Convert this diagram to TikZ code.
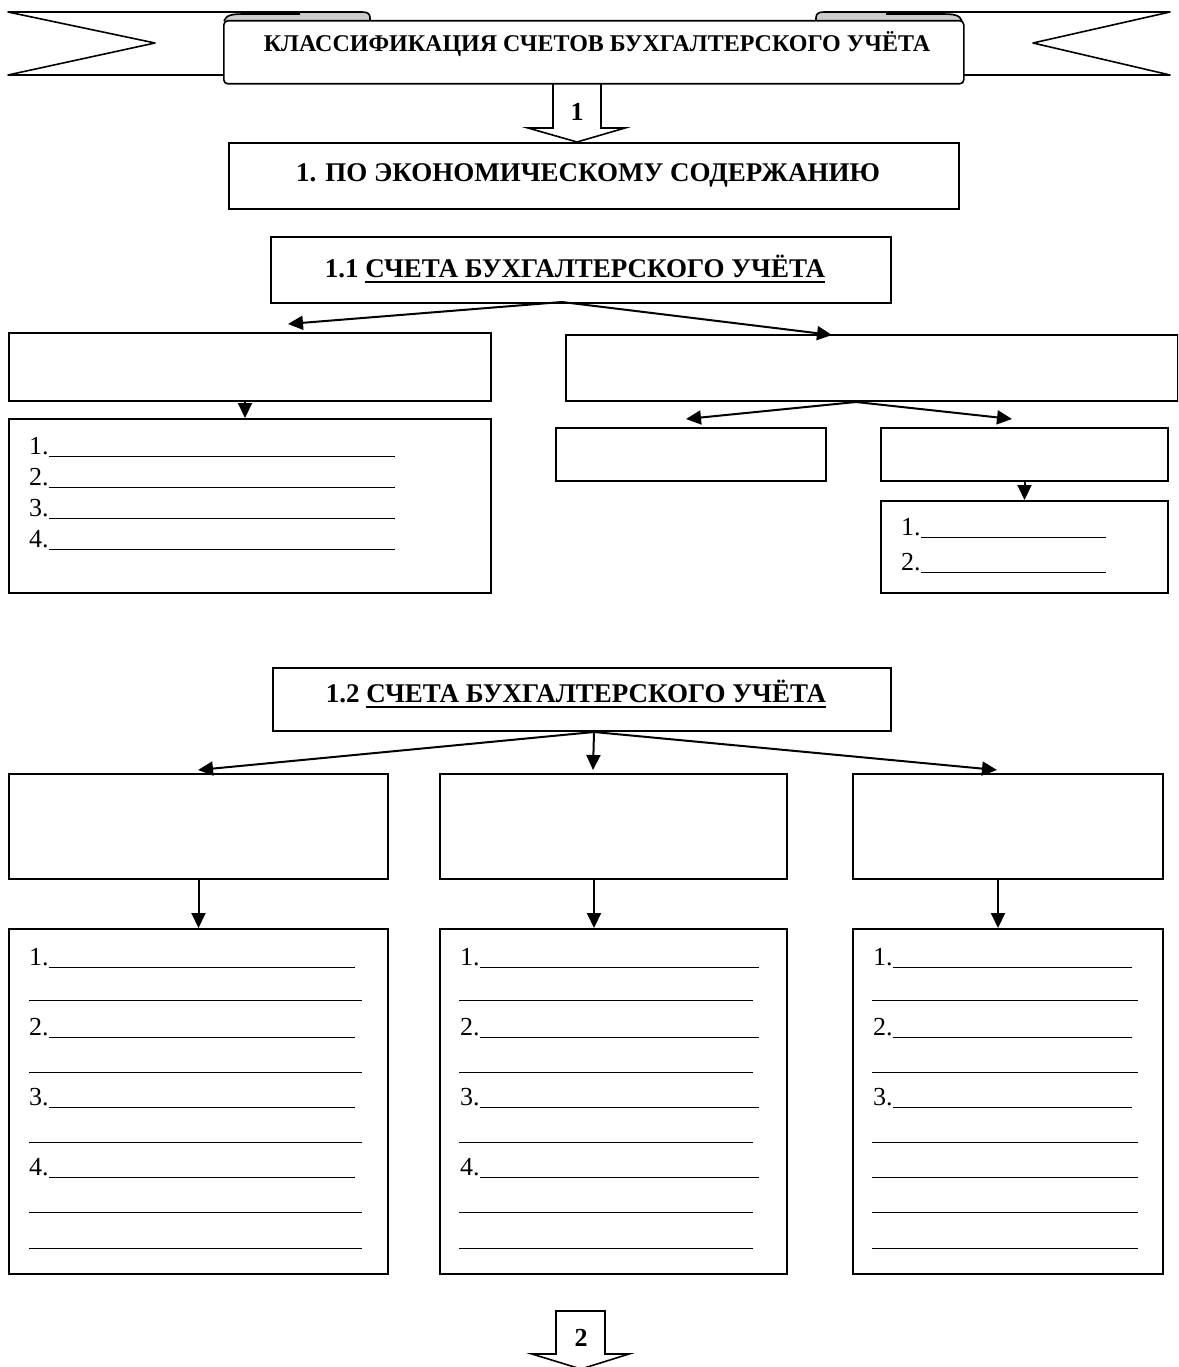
\documentclass[tikz,border=0pt]{standalone}
\usepackage{fontspec}
\setmainfont{Liberation Serif}
\usetikzlibrary{arrows.meta,calc}
% a numbered (or blank) fill-in line of total width #2
\newcommand\entryline[2]{\setbox0\hbox{#1}\dimen0=\dimexpr#2-\wd0\relax\box0\rule[-3pt]{\dimen0}{1.3pt}}
% underlined words
\newcommand\ulword[1]{\setbox0\hbox{#1}\rlap{\rule[-5.5pt]{\wd0}{1.8pt}}\box0}
\begin{document}
\begin{tikzpicture}[x=1pt,y=1pt,
  box/.style={draw, line width=2pt, inner sep=0pt, anchor=north west},
  conn/.style={line width=2pt, -{Triangle[length=15pt,width=14pt]}},
  heading/.style={font=\fontsize{27}{30}\selectfont\bfseries, inner sep=0pt, anchor=base},
  entry/.style={font=\fontsize{26}{30}\selectfont, inner sep=0pt, anchor=base west},
  blockarrow/.style={draw, line width=1.6pt, fill=white, line join=miter},
  ribbon/.style={draw, line width=1.6pt, line join=round}]

\clip (0,0) rectangle (1178,-1367);
\fill[white] (0,0) rectangle (1178,-1367);

% ---------- title ribbon ----------
% shaded folds where the tails turn under the front panel
\fill[gray!40] (224,-21) .. controls (226,-14) and (232,-12.5) .. (245,-12.5) -- (362,-12.5)
  .. controls (368,-12.5) and (370,-14) .. (370,-18) -- (370,-21) -- cycle;
\fill[gray!40] (962,-21) .. controls (960,-14) and (954,-12.5) .. (941,-12.5) -- (824,-12.5)
  .. controls (818,-12.5) and (816,-14) .. (816,-18) -- (816,-21) -- cycle;
\draw[ribbon] (224,-21) .. controls (226,-15) and (232,-14) .. (245,-14) -- (300,-14);
\draw[ribbon] (962,-21) .. controls (960,-15) and (954,-14) .. (941,-14) -- (886,-14);
% tails
\draw[ribbon] (370,-21) -- (370,-18) .. controls (370,-14) and (368,-12) .. (362,-12)
  -- (8,-12) -- (155,-43) -- (8,-75) -- (223,-75);
\draw[ribbon] (816,-21) -- (816,-18) .. controls (816,-14) and (818,-12) .. (824,-12)
  -- (1170,-12) -- (1033,-43) -- (1170,-75) -- (963,-75);
% block arrow 1
\draw[blockarrow] (553,-80) -- (553,-128) -- (528,-128) -- (577,-142) -- (625,-128) -- (601,-128) -- (601,-80);
\node[font=\fontsize{26}{30}\selectfont\bfseries, inner sep=0pt] (num1) at (577,-112) {1};
% front panel
\node[ribbon, fill=white, rounded corners=4pt, inner sep=0pt, anchor=north west,
  minimum width=740pt, minimum height=63pt] (panel) at (223,-20) {};
\node[font=\fontsize{24}{28}\selectfont\bfseries, inner sep=0pt, anchor=base] (title) at (597,-52)
  {КЛАССИФИКАЦИЯ СЧЕТОВ БУХГАЛТЕРСКОГО УЧЁТА};

% ---------- section 1 ----------
\node[box, minimum width=730pt, minimum height=66pt] (econ) at (228,-142) {};
\node[heading] (econtext) at (588,-182) {1. ПО ЭКОНОМИЧЕСКОМУ СОДЕРЖАНИЮ};

\node[box, minimum width=620pt, minimum height=66pt] (sub11) at (270,-236) {};
\node[heading] (sub11text) at (575,-277) {1.1 \ulword{СЧЕТА БУХГАЛТЕРСКОГО УЧЁТА}};

\node[box, minimum width=482pt, minimum height=68pt] (a1) at (8,-332) {};
\node[box, minimum width=612pt, minimum height=66pt] (a2) at (565,-334) {};
\node[box, minimum width=482pt, minimum height=174pt] (a1list) at (8,-418) {};
\node[box, minimum width=270pt, minimum height=53pt] (a21) at (555,-427) {};
\node[box, minimum width=287pt, minimum height=53pt] (a22) at (880,-427) {};
\node[box, minimum width=287pt, minimum height=92pt] (a22list) at (880,-500) {};

\coordinate (fork11) at (562,-302);
\coordinate (endA1) at (288,-324);
\coordinate (endA2) at (832,-335);
\draw[conn] (fork11) -- (endA1);
\draw[conn] (fork11) -- (endA2);
\draw[conn] ($(a1.south)+(-5,0)$) -- ($(a1list.north)+(-5,0)$);
\coordinate (fork2) at ($(a2.south)+(-16,0)$);
\coordinate (endA21) at (686,-419);
\coordinate (endA22) at (1012,-419);
\draw[conn] (fork2) -- (endA21);
\draw[conn] (fork2) -- (endA22);
\draw[conn] (a22.south) -- (a22list.north);

\foreach \lab/\y in {1./456, 2./487, 3./518, 4./549}
  \node[entry] at (29,-\y+2) {\entryline{\lab}{366pt}};
\foreach \lab/\y in {1./537, 2./572}
  \node[entry] at (901,-\y+2) {\entryline{\lab}{205pt}};

% ---------- section 1.2 ----------
\node[box, minimum width=618pt, minimum height=63pt] (sub12) at (272,-667) {};
\node[heading] (sub12text) at (576,-702) {1.2 \ulword{СЧЕТА БУХГАЛТЕРСКОГО УЧЁТА}};

\node[box, minimum width=379pt, minimum height=105pt] (c1) at (8,-773) {};
\node[box, minimum width=347pt, minimum height=105pt] (c2) at (439,-773) {};
\node[box, minimum width=310pt, minimum height=105pt] (c3) at (852,-773) {};
\node[box, minimum width=379pt, minimum height=345pt] (c1list) at (8,-928) {};
\node[box, minimum width=347pt, minimum height=345pt] (c2list) at (439,-928) {};
\node[box, minimum width=310pt, minimum height=345pt] (c3list) at (852,-928) {};

\coordinate (fork12) at ($(sub12.south)+(12,0)$);
\coordinate (endC1) at (198,-770);
\coordinate (endC2) at (593,-770);
\coordinate (endC3) at (997,-770);
\draw[conn] (fork12) -- (endC1);
\draw[conn] (fork12) -- (endC2);
\draw[conn] (fork12) -- (endC3);
\draw[conn] (c1.south) -- (c1list.north);
\draw[conn] ($(c2.south)+(-19.5,0)$) -- ($(c2list.north)+(-19.5,0)$);
\draw[conn] ($(c3.south)+(-10,0)$) -- ($(c3list.north)+(-10,0)$);

% fill-in lines: label / underline y / start x / end x
\foreach \lab/\y/\xs/\xe in {1./967/29/355, /1000/29/362, 2./1037/29/355, /1072/29/362,
    3./1107/29/355, /1142/29/362, 4./1177/29/355, /1212/29/362, /1248/29/362,
    1./967/460/759, /1000/459/753, 2./1037/460/759, /1072/459/753,
    3./1107/460/759, /1142/459/753, 4./1177/460/759, /1212/459/753, /1248/459/753,
    1./967/873/1132, /1000/872/1138, 2./1037/873/1132, /1072/872/1138,
    3./1107/873/1132, /1142/872/1138, /1177/872/1138, /1212/872/1138, /1248/872/1138}
  \node[entry] at (\xs,-\y+2) {\entryline{\lab}{\dimexpr\xe pt-\xs pt\relax}};

% block arrow 2
\draw[blockarrow] (556,-1311) -- (605,-1311) -- (605,-1354) -- (629,-1354) -- (581,-1369)
  -- (532,-1354) -- (556,-1354) -- cycle;
\node[font=\fontsize{26}{30}\selectfont\bfseries, inner sep=0pt] (num2) at (581,-1338) {2};
\end{tikzpicture}
\end{document}
